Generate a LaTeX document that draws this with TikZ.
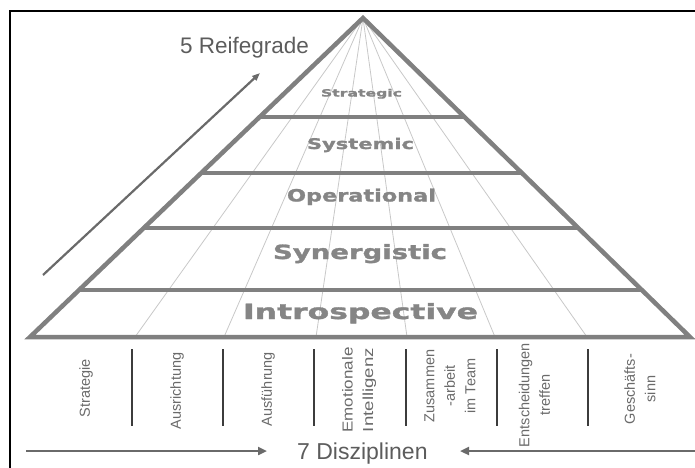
\documentclass[tikz,border=0pt]{standalone}
\usepackage{fontspec}
\setmainfont{Liberation Sans}
\newfontfamily\levelfont{DejaVu Sans}[BoldFeatures={FakeBold=1.3}]
\usetikzlibrary{arrows.meta,calc}
\definecolor{edgegray}{HTML}{808080}
\definecolor{fangray}{HTML}{C8C8C8}
\definecolor{sepgray}{HTML}{3C3C3C}
\definecolor{textgray}{HTML}{6A6A6A}
\definecolor{biggray}{HTML}{5C5C5C}
\definecolor{levelgray}{HTML}{858585}
\newcommand\stretchw[2]{\setbox0\hbox{#2}\pgfmathsetmacro\stretchfac{#1/\the\wd0}\scalebox{\stretchfac}[1]{\box0}}
\tikzset{
  frameline/.style={black, line width=1.2pt},
  pyredge/.style={edgegray, line width=4.5pt, line join=miter},
  levelline/.style={edgegray, line width=3.2pt},
  fanline/.style={fangray, line width=0.8pt},
  sepline/.style={sepgray, line width=2pt},
  arrowline/.style={textgray, line width=2.2pt, -{Triangle[length=9pt,width=8pt]}},
  levellabel/.style={anchor=base, inner sep=0pt, text=levelgray},
  disclabel/.style={rotate=90, align=center, inner sep=0pt, text=textgray,
    font=\fontsize{14.5}{20.5}\selectfont},
  biglabel/.style={anchor=base west, inner sep=0pt, text=biggray}
}
\begin{document}
\begin{tikzpicture}[x=1pt,y=-1pt]
\useasboundingbox (0,0) rectangle (695,467);
% frame
\coordinate (fbl) at (10,470);
\coordinate (ftl) at (10,11);
\coordinate (ftr) at (698,11);
\draw[frameline] (fbl) -- (ftl) -- (ftr);
% pyramid corners
\coordinate (apex) at (363,18);
\coordinate (bl) at (30,337);
\coordinate (br) at (690,337);
% fan lines
\foreach \x [count=\i] in {135,224,316,407,495,587}{
  \coordinate (b\i) at (\x,337);
  \draw[fanline] (apex) -- (b\i);
}
% level lines
\foreach \t [count=\i] in {0.3103,0.4859,0.6583,0.8527}{
  \coordinate (l\i) at ($(apex)!\t!(bl)$);
  \coordinate (r\i) at ($(apex)!\t!(br)$);
  \draw[levelline] (l\i) -- (r\i);
}
\draw[pyredge] (apex) -- (br) -- (bl) -- cycle;
% level labels
\node[levellabel, font=\levelfont\bfseries\fontsize{10}{12}\selectfont] (strat) at (361.5,96.5) {\stretchw{81pt}{Strategic}};
\node[levellabel, font=\levelfont\bfseries\fontsize{14.7}{17}\selectfont] (syst) at (360.5,149) {\stretchw{107pt}{Systemic}};
\node[levellabel, font=\levelfont\bfseries\fontsize{17}{20}\selectfont] (oper) at (361.5,201.5) {\stretchw{149pt}{Operational}};
\node[levellabel, font=\levelfont\bfseries\fontsize{19.6}{23}\selectfont] (syn) at (360,259) {\stretchw{174pt}{Synergistic}};
\node[levellabel, font=\levelfont\bfseries\fontsize{21}{25}\selectfont] (intro) at (360.5,319) {\stretchw{235pt}{Introspective}};
% separators
\foreach \x [count=\i] in {132,223,314,406,497,588}{
  \coordinate (st\i) at (\x,349);
  \coordinate (sb\i) at (\x,426);
  \draw[sepline] (st\i) -- (sb\i);
}
% discipline labels
\node[disclabel] (d1) at (86,388) {Strategie};
\node[disclabel] (d2) at (177,391) {Ausrichtung};
\node[disclabel] (d3) at (268,389) {Ausführung};
\node[disclabel] (d4) at (359,390) {\stretchw{85pt}{Emotionale}\\\stretchw{84pt}{Intelligenz}};
\node[disclabel] (d5) at (450,386) {Zusammen\\-arbeit\\im Team};
\node[disclabel] (d6) at (534.5,395) {Entscheidungen\\treffen};
\node[disclabel] (d7) at (640,389) {Geschäfts-\\sinn};
% big labels
\node[biglabel, font=\fontsize{22.5}{26}\selectfont] (reife) at (180,53) {5 Reifegrade};
\node[biglabel, font=\fontsize{23}{27}\selectfont] (diszi) at (297,459) {7 Disziplinen};
% arrows
\coordinate (a1s) at (43,275);
\coordinate (a1e) at (260,73);
\draw[arrowline, -{Triangle[length=8pt,width=6pt]}] (a1s) -- (a1e);
\coordinate (a2s) at (26,451);
\coordinate (a2e) at (267,451);
\draw[arrowline] (a2s) -- (a2e);
\coordinate (a3s) at (698,451);
\coordinate (a3e) at (460,451);
\draw[arrowline] (a3s) -- (a3e);
\end{tikzpicture}
\end{document}
